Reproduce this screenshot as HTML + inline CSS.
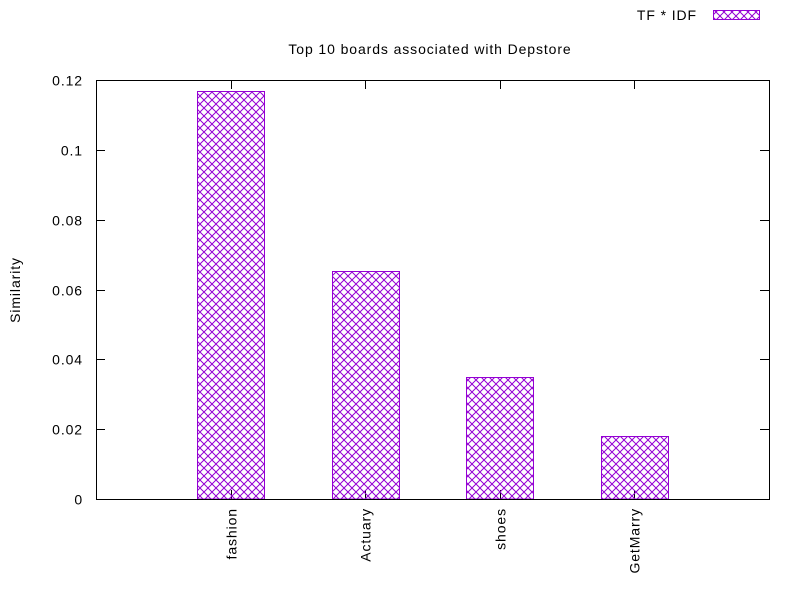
<!DOCTYPE html>
<html><head><meta charset="utf-8"><style>body{margin:0;background:#fff}svg{display:block;font-family:"Liberation Sans",sans-serif}text{letter-spacing:0.9px}</style></head>
<body>
<svg id="chart" width="800" height="600">
<defs><pattern id="hatch" width="8" height="8" patternUnits="userSpaceOnUse"><path d="M0,0L8,8M8,0L0,8" stroke="#9400d3" stroke-width="1" fill="none"/></pattern></defs>
<text x="430" y="54" font-size="14" text-anchor="middle">Top 10 boards associated with Depstore</text>
<text x="20" y="290" font-size="14" text-anchor="middle" transform="rotate(-90 20 290)">Similarity</text>
<g><text x="697" y="20" font-size="14" text-anchor="end">TF * IDF</text><rect x="713.5" y="10.5" width="46" height="9" fill="url(#hatch)" stroke="#9400d3"/></g>
<g id="axes"></g><g id="bars"></g>
<rect x="96.5" y="80.5" width="673" height="419" fill="none" stroke="#000"/>
</svg>
<script>
const categories=["fashion","Actuary","shoes","GetMarry"];
const values=[0.1169,0.0653,0.0349,0.0180];
const yTicks=[0,0.02,0.04,0.06,0.08,0.1,0.12];
const yTickLabels=["0","0.02","0.04","0.06","0.08","0.1","0.12"];
const NS="http://www.w3.org/2000/svg";
const L=96,R=769,T=80,B=499;
const y=v=>B-(v/0.12)*(B-T);
const x=i=>L+(i+1)*(R-L)/5;
const bw=0.5*(R-L)/5;
function mk(tag,attrs,parent){const e=document.createElementNS(NS,tag);for(const k in attrs)e.setAttribute(k,attrs[k]);parent.appendChild(e);return e;}
const ax=document.getElementById('axes'),bars=document.getElementById('bars');
yTicks.forEach((t,i)=>{
  const yy=Math.round(y(t))+0.5;
  const l=mk('path',{d:`M${L},${yy}h9M${R},${yy}h-9`,stroke:'#000'},ax);
  
  
  const tx=mk('text',{x:83,y:yy+5,'font-size':14,'text-anchor':'end'},ax);
  tx.textContent=yTickLabels[i];
  
  
});
categories.forEach((c,i)=>{
  const cx=Math.round(x(i))+0.5;
  const l=mk('path',{d:`M${cx},${B}v-9M${cx},${T}v9`,stroke:'#000'},ax);
  
  
  const tx=mk('text',{x:cx+5,y:508,'font-size':14,'text-anchor':'end',transform:`rotate(-90 ${cx+5} 508)`},ax);
  tx.textContent=c;
  
  
  const top=Math.round(y(values[i]))+0.5;
  const r=mk('rect',{x:Math.round(x(i)-bw/2)+0.5,y:top,width:Math.round(bw),height:B-top,fill:'url(#hatch)',stroke:'#9400d3'},bars);
  
  
});
</script>
</body></html>
